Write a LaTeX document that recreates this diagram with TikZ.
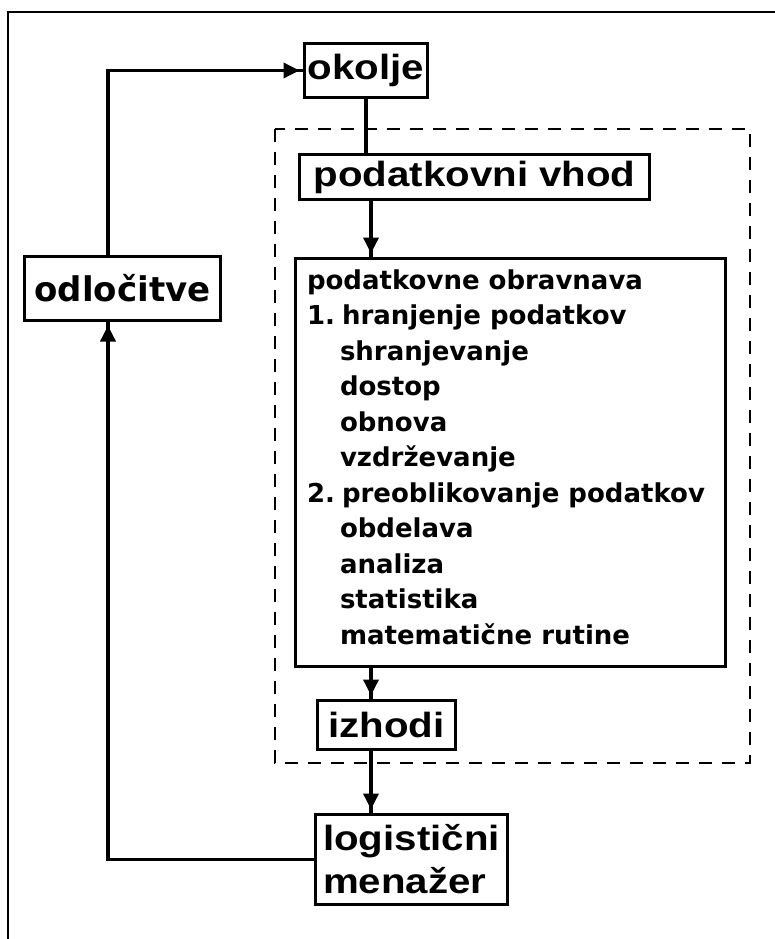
\documentclass[tikz,border=0pt]{standalone}
\usepackage{fontspec}
\usepackage{graphicx}
\usetikzlibrary{arrows.meta}

% Box captions in a wide Helvetica-like bold, list text in a Verdana-like bold
\newfontfamily\captionface{Liberation Sans}
\newfontfamily\listface{DejaVu Sans}
\newcommand\widecap[1]{\scalebox{1.15}[1]{#1}}
\newcommand\numgap{\kern-5pt}

\begin{document}
\begin{tikzpicture}[x=1pt,y=-1pt,
  every node/.style={inner sep=0pt, outer sep=0pt},
  box/.style={draw, rectangle, line width=3.5pt},
  captext/.style={font=\captionface\bfseries\fontsize{35}{43}\selectfont},
  listtext/.style={font=\listface\bfseries\fontsize{26}{35.5}\selectfont},
  flow/.style={line width=3.5pt},
  arr/.style={flow, -{Triangle[length=16pt,width=15pt]Rectangle[length=5pt,width=3.5pt]}},
  zone/.style={line width=1.6pt, dash pattern=on 13pt off 10pt}
]
\useasboundingbox (0,0) rectangle (775,939);

% outer frame (only its top and left edges fall on the page)
\draw[line width=2.2pt] (8,950) -- (8,12) -- (790,12);

% dashed zone of the information system
\draw[zone] (275,129) rectangle (750,763);

% boxes
\node[box, captext, minimum width=123pt, minimum height=54pt] (okolje) at (366,70.5) {\widecap{okolje}};
\node[box, captext, minimum width=350pt, minimum height=45pt] (vhod) at (474.5,177) {\widecap{podatkovni vhod}};
\node[box, font=\listface\bfseries\fontsize{34}{40}\selectfont, minimum width=196pt, minimum height=64pt] (odl) at (122.5,288.5) {odločitve};
\node[box, minimum width=430pt, minimum height=408pt] (proc) at (510.5,462.5) {};
\node[box, captext, minimum width=138pt, minimum height=49pt] (izhodi) at (386.5,725) {\widecap{izhodi}};
\node[box, captext, align=left, minimum width=192pt, minimum height=90pt] (mgr) at (411.5,859.5) {\widecap{logistični}\\\widecap{menažer}};

% contents of the processing box
\node[listtext, anchor=base west] (proctext) at (307,289) {\parbox[t]{415pt}{\fontsize{26}{35.5}\selectfont
podatkovne obravnava\\
1. \numgap hranjenje podatkov\\
\hspace*{33pt}shranjevanje\\
\hspace*{33pt}dostop\\
\hspace*{33pt}obnova\\
\hspace*{33pt}vzdrževanje\\
2. \numgap preoblikovanje podatkov\\
\hspace*{33pt}obdelava\\
\hspace*{33pt}analiza\\
\hspace*{33pt}statistika\\
\hspace*{33pt}matematične rutine}};

% guide columns for the connectors
\coordinate (spine) at (371,0);
\coordinate (loop) at (108,0);

% connectors
\draw[flow] (okolje.south) -- (okolje.south |- vhod.north);
\draw[arr] (vhod.south -| spine) -- (proc.north -| spine);
\draw[arr] (proc.south -| spine) -- (izhodi.north -| spine);
\draw[arr] (izhodi.south -| spine) -- (mgr.north -| spine);
\draw[arr] (mgr.west) -| (odl.south -| loop);
\draw[arr] (odl.north -| loop) |- (okolje.west);
\end{tikzpicture}
\end{document}
